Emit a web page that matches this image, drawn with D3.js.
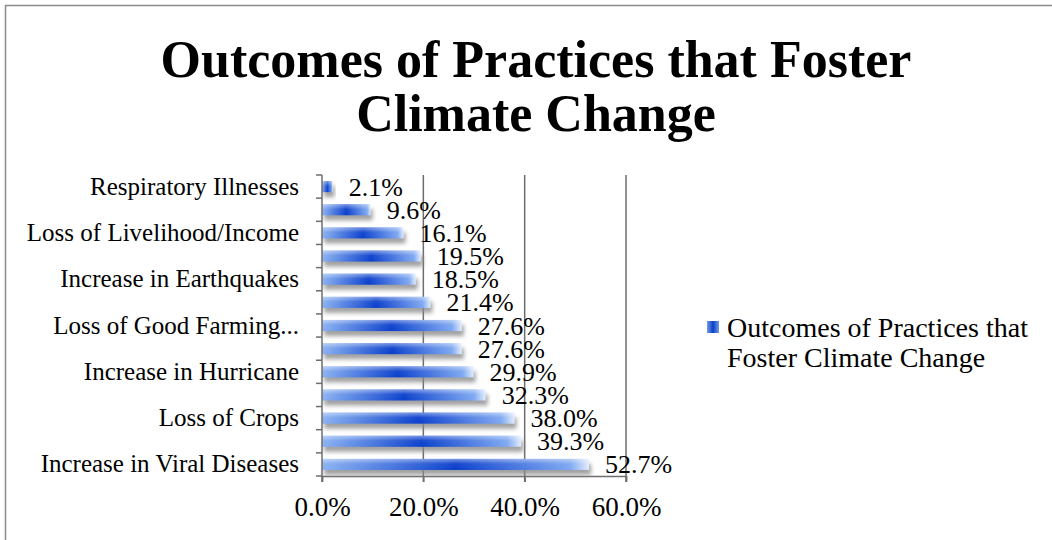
<!DOCTYPE html>
<html>
<head>
<meta charset="utf-8">
<script src="https://cdn.jsdelivr.net/npm/d3@7"></script>
<style>
  body { margin: 0; background: #fff; }
  text { font-family: "Liberation Serif", "DejaVu Serif", serif; fill: #000; }
</style>
</head>
<body>
<script>
// categories top to bottom (Excel only prints every other one)
var categories = [
  "Respiratory Illnesses",
  "Increase in Droughts",
  "Loss of Livelihood/Income",
  "Increase in Flooding",
  "Increase in Earthquakes",
  "Water Scarcity",
  "Loss of Good Farming...",
  "Loss of Biodiversity",
  "Increase in Hurricane",
  "Food Shortage",
  "Loss of Crops",
  "Heat-related Illnesses",
  "Increase in Viral Diseases"
];
var values = [2.1, 9.6, 16.1, 19.5, 18.5, 21.4, 27.6, 27.6, 29.9, 32.3, 38.0, 39.3, 52.7];
var xTicks = [0, 20, 40, 60];
var seriesName = ["Outcomes of Practices that", "Foster Climate Change"];
var titleLines = ["Outcomes of Practices that Foster", "Climate Change"];

var screenWidth = 1052;
var screenHeight = 540;

function drawChart() {

        var data = categories.map(function(c, i) { return { name: c, value: values[i] }; });

        var svg = d3.select("body")
        .append("svg")
        .attr("width", screenWidth)
        .attr("height", screenHeight);

        var defs = svg.append("defs");

        // bar fill: light edges, dark blue middle
        var grad = defs.append("linearGradient")
        .attr("id", "barGrad")
        .attr("x1", "0%").attr("x2", "100%")
        .attr("y1", "0%").attr("y2", "0%");
        grad.append("stop").attr("offset", "0%").attr("stop-color", "#8ab2f2");
        grad.append("stop").attr("offset", "50%").attr("stop-color", "#0a3fcc");
        grad.append("stop").attr("offset", "93%").attr("stop-color", "#7ea8f2");
        grad.append("stop").attr("offset", "100%").attr("stop-color", "#e2ecfd");

        // legend swatch
        var lgrad = defs.append("linearGradient")
        .attr("id", "legGrad")
        .attr("x1", "0%").attr("x2", "100%");
        lgrad.append("stop").attr("offset", "0%").attr("stop-color", "#6f9cec");
        lgrad.append("stop").attr("offset", "50%").attr("stop-color", "#0c3fc4");
        lgrad.append("stop").attr("offset", "100%").attr("stop-color", "#6f9cec");

        // glossy top
        var gloss = defs.append("linearGradient")
        .attr("id", "gloss")
        .attr("x1", "0%").attr("x2", "0%")
        .attr("y1", "0%").attr("y2", "100%");
        gloss.append("stop").attr("offset", "0%").attr("stop-color", "#fff").attr("stop-opacity", 0.45);
        gloss.append("stop").attr("offset", "45%").attr("stop-color", "#fff").attr("stop-opacity", 0.05);
        gloss.append("stop").attr("offset", "100%").attr("stop-color", "#fff").attr("stop-opacity", 0);

        var blur = defs.append("filter")
        .attr("id", "shadow")
        .attr("x", "-10%").attr("y", "-60%")
        .attr("width", "120%").attr("height", "220%");
        blur.append("feGaussianBlur").attr("stdDeviation", 2.2);

        // outer frame (only top and left visible)
        svg.append("path")
        .attr("d", "M5.5," + screenHeight + " V5.5 H" + screenWidth)
        .attr("fill", "none")
        .attr("stroke", "#8c8c8c")
        .attr("stroke-width", 1.5);

        // title
        svg.append("g")
        .selectAll("text")
        .data(titleLines)
        .enter()
        .append("text")
        .attr("x", 536)
        .attr("y", function(d, i) { return 77 + i * 54; })
        .attr("text-anchor", "middle")
        .style("font-size", "52px")
        .style("font-weight", "bold")
        .text(function(d) { return d; });

        var x = d3.scaleLinear()
        .domain([0, 60])
        .range([322, 626]);

        var y = d3.scaleBand()
        .domain(categories)
        .range([175, 476])
        .paddingInner(0.52)
        .paddingOuter(0.26);

        var step = y.step();

        // gridlines
        svg.append("g")
        .selectAll("line")
        .data(xTicks.slice(1))
        .enter()
        .append("line")
        .attr("x1", function(d) { return x(d); })
        .attr("x2", function(d) { return x(d); })
        .attr("y1", 175)
        .attr("y2", 482)
        .attr("stroke", "#6e6e6e")
        .attr("stroke-width", 1.5);

        // bottom axis
        var xAxis = svg.append("g")
        .attr("transform", "translate(0,476)")
        .call(d3.axisBottom(x)
            .tickValues(xTicks)
            .tickSize(6)
            .tickFormat(function(d) { return d3.format(".1f")(d) + "%"; }));
        xAxis.select(".domain").attr("stroke", "#6e6e6e").attr("stroke-width", 1.5);
        xAxis.selectAll(".tick line").attr("stroke", "#6e6e6e").attr("stroke-width", 1.5);
        xAxis.selectAll(".tick text")
        .attr("y", 21)
        .style("font-size", "27px")
        .style("font-family", "'Liberation Serif', serif");

        // shadows
        svg.append("g")
        .selectAll("rect")
        .data(data)
        .enter()
        .append("rect")
        .attr("x", x(0) + 2)
        .attr("y", function(d) { return y(d.name) + 5; })
        .attr("width", function(d) { return x(d.value) - x(0); })
        .attr("height", y.bandwidth())
        .attr("fill", "#8a8a8a")
        .attr("opacity", 0.8)
        .attr("filter", "url(#shadow)");

        // bars
        var bars = svg.append("g")
        .selectAll("g")
        .data(data)
        .enter()
        .append("g");

        bars.append("rect")
        .attr("x", x(0))
        .attr("y", function(d) { return y(d.name); })
        .attr("width", function(d) { return x(d.value) - x(0); })
        .attr("height", y.bandwidth())
        .attr("fill", "url(#barGrad)");

        bars.append("rect")
        .attr("x", x(0))
        .attr("y", function(d) { return y(d.name); })
        .attr("width", function(d) { return x(d.value) - x(0); })
        .attr("height", y.bandwidth())
        .attr("fill", "url(#gloss)");

        // value labels
        svg.append("g")
        .selectAll("text")
        .data(data)
        .enter()
        .append("text")
        .attr("x", function(d) { return x(d.value) + 16; })
        .attr("y", function(d) { return y(d.name) + y.bandwidth() / 2 + 9; })
        .style("font-size", "26px")
        .text(function(d) { return d3.format(".1f")(d.value) + "%"; });

        // left axis, labels on every other category
        var yAxis = svg.append("g")
        .attr("transform", "translate(322,0)")
        .call(d3.axisLeft(y)
            .tickSize(0)
            .tickPadding(23)
            .tickFormat(function(d, i) { return i % 2 === 0 ? d : ""; }));
        yAxis.select(".domain").remove();
        yAxis.selectAll(".tick text")
        .attr("dy", "0.32em")
        .style("font-size", "25px")
        .style("font-family", "'Liberation Serif', serif");

        // axis line and ticks between categories
        svg.append("line")
        .attr("x1", x(0)).attr("x2", x(0))
        .attr("y1", 175).attr("y2", 482)
        .attr("stroke", "#6e6e6e")
        .attr("stroke-width", 1.5);

        svg.append("g")
        .selectAll("line")
        .data(d3.range(categories.length + 1))
        .enter()
        .append("line")
        .attr("x1", x(0) - 6)
        .attr("x2", x(0))
        .attr("y1", function(i) { return 175 + i * step; })
        .attr("y2", function(i) { return 175 + i * step; })
        .attr("stroke", "#6e6e6e")
        .attr("stroke-width", 1.5);

        // legend
        var legend = svg.append("g");
        legend.append("rect")
        .attr("x", 707).attr("y", 321)
        .attr("width", 12).attr("height", 12)
        .attr("fill", "url(#legGrad)");

        legend.selectAll("text")
        .data(seriesName)
        .enter()
        .append("text")
        .attr("x", 727)
        .attr("y", function(d, i) { return 337 + i * 30; })
        .style("font-size", "28px")
        .text(function(d) { return d; });
}

drawChart();
</script>
</body>
</html>
